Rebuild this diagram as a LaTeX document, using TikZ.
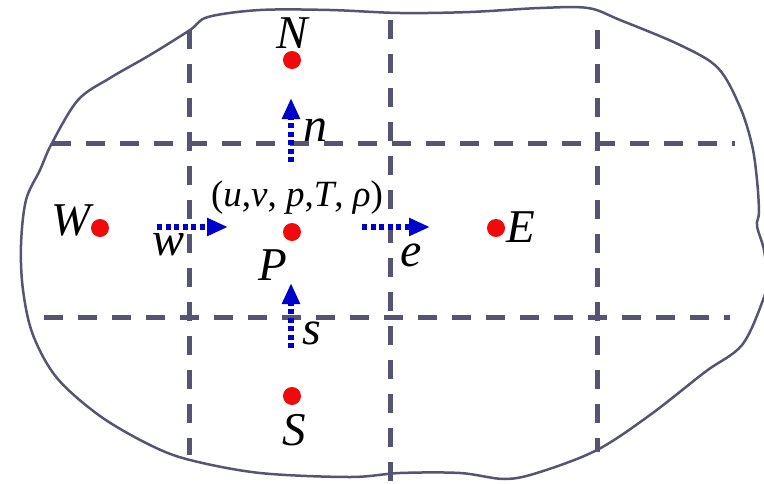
\documentclass[tikz,border=0pt]{standalone}
\usepackage{fontspec}
\setmainfont{Liberation Serif}
\usetikzlibrary{arrows.meta}
\definecolor{gridc}{RGB}{85,85,115}
\definecolor{flowc}{RGB}{0,0,205}
\definecolor{ptc}{RGB}{240,10,10}
\tikzset{
  gridline/.style={draw=gridc, line width=5pt, dash pattern=on 19pt off 15pt},
  outline/.style={draw=gridc, line width=2.5pt},
  flow/.style={draw=flowc, line width=5.5pt, dash pattern=on 5pt off 3.5pt,
    -{Triangle[length=21pt,width=17pt,fill=flowc]}},
  pt/.style={circle, fill=ptc, inner sep=0pt, minimum size=18pt},
  big/.style={inner sep=0pt, font=\fontsize{47}{47}\selectfont\itshape},
  small/.style={inner sep=0pt, font=\fontsize{48}{48}\selectfont\itshape},
  vars/.style={inner sep=0pt, font=\fontsize{37}{37}\selectfont}
}
\begin{document}
\begin{tikzpicture}[x=1pt,y=-1pt]
\useasboundingbox (0,0) rectangle (764,483);
% outline
\draw[outline] plot[smooth cycle, tension=0.55] coordinates {
 (190,30) (208,17) (260,10) (330,10) (400,13) (470,12) (540,8) (588,8)
 (620,20) (680,45) (718,68) (740,107) (752,145) (757,180) (759,212)
 (757,226) (764,250) (767,280) (763,300) (742,345) (705,372) (650,415)
 (597,450) (540,472) (505,479) (460,473) (400,473) (350,477) (260,473)
 (190,460) (150,445) (100,416) (57,378) (33,335) (23,290) (21,245)
 (26,200) (40,170) (52,143) (78,100) (110,78) (150,55)};
% grid
\coordinate (v1t) at (189,30);  \coordinate (v1b) at (189,455);
\coordinate (v2t) at (390,20);  \coordinate (v2b) at (390,483);
\coordinate (v3t) at (597,30);  \coordinate (v3b) at (597,452);
\coordinate (h1l) at (52,143);  \coordinate (h1r) at (735,143);
\coordinate (h2l) at (44,317);  \coordinate (h2r) at (730,317);
\draw[gridline] (v1t) -- (v1b);
\draw[gridline] (v2t) -- (v2b);
\draw[gridline] (v3t) -- (v3b);
\draw[gridline] (h1l) -- (h1r);
\draw[gridline] (h2l) -- (h2r);
% points
\node[pt] (N) at (292,60) {};
\node[pt] (P) at (292,232) {};
\node[pt] (W) at (100,228) {};
\node[pt] (E) at (496,228) {};
\node[pt] (S) at (292,396) {};
% labels
\node[big] (Nl) at (292,33) {N};
\node[big] (Sl) at (294,430) {S};
\node[big] (Wl) at (71,220) {W};
\node[big] (El) at (521,227) {E};
\node[big] (Pl) at (273,265) {P};
\node[small] (wl) at (169,245) {w};
\node[small] (el) at (411,255) {e};
\node[small] (nl) at (315,130) {n};
\node[small] (sl) at (312,333) {s};
\node[vars] (vl) at (297,198) {(\textit{u},\textit{v}, \textit{p},\textit{T}, \textit{ρ})};
% flux arrows
\coordinate (wa) at (157,227); \coordinate (wb) at (228,227);
\coordinate (ea) at (362,227); \coordinate (eb) at (430,227);
\coordinate (na) at (291,162); \coordinate (nb) at (291,98);
\coordinate (sa) at (291,348); \coordinate (sb) at (291,283);
\draw[flow] (wa) -- (wb);
\draw[flow] (ea) -- (eb);
\draw[flow] (na) -- (nb);
\draw[flow] (sa) -- (sb);
\end{tikzpicture}
\end{document}
